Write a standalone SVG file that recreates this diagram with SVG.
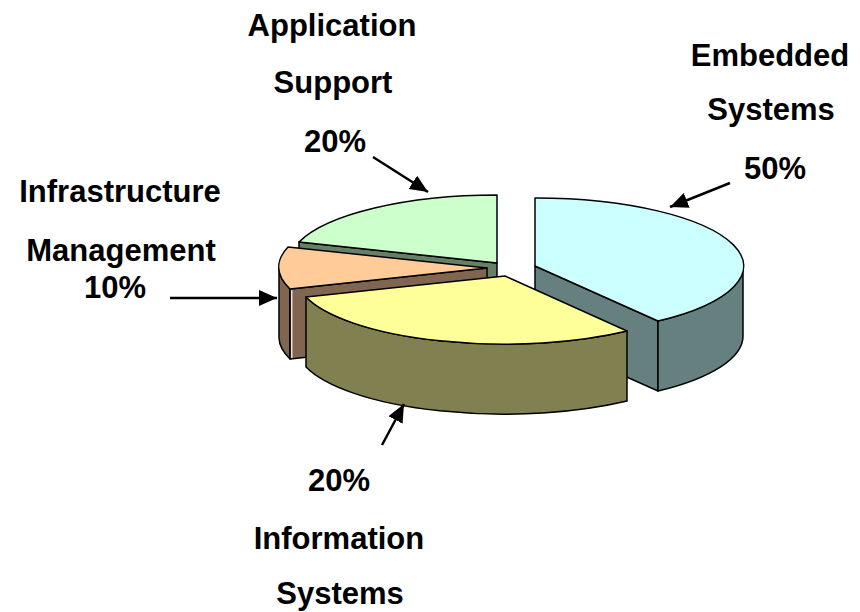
<svg xmlns="http://www.w3.org/2000/svg" width="860" height="612" viewBox="0 0 860 612">
<defs>
<style>
text{font-family:"Liberation Sans",Arial,Helvetica,sans-serif;font-weight:bold;font-size:31px;fill:#000;text-anchor:middle}
.f{stroke:#000;stroke-width:1.5;stroke-linejoin:round}
.arr{stroke:#000;stroke-width:2.5;fill:none;marker-end:url(#ah)}
</style>
<marker id="ah" markerUnits="userSpaceOnUse" markerWidth="20" markerHeight="18" refX="18" refY="8" orient="auto">
<path d="M0,0 L18,8 L0,16 Z" fill="#000"/>
</marker>
</defs>
<rect width="860" height="612" fill="#fff"/>
<g id="slice-application-support">
<path class="f" d="M299,242 L497,263 L497,333 L299,312 Z" fill="#668066"/>
<path class="f" d="M497,263 L497,195 A208,68 0 0,0 299,242 Z" fill="#CCFFCC"/>
</g>
<g id="slice-infrastructure">
<path class="f" d="M279,268 A208,68 0 0,0 290,289 L290,359 A208,68 0 0,1 279,338 Z" fill="#806650"/>
<path class="f" d="M290,289 L487,268 L487,338 L290,359 Z" fill="#806650"/>
<line x1="291.8" y1="290" x2="291.8" y2="358" stroke="#fff" stroke-width="1.2"/>
<path class="f" d="M487,268 L288,247 A208,68 0 0,0 290,289 Z" fill="#FFCC99"/>
</g>
<g id="slice-embedded">
<path class="f" d="M535,266 L658,321 L658,391 L535,336 Z" fill="#668080"/>
<path class="f" d="M658,321 A208,68 0 0,0 743,266 L743,336 A208,68 0 0,1 658,391 Z" fill="#668080"/>
<path class="f" d="M535,266 L535,198 A208,68 0 0,1 658,321 Z" fill="#CCFFFF"/>
</g>
<g id="slice-information">
<path class="f" d="M627,331 A208,68 0 0,1 306,297 L306,367 A208,68 0 0,0 627,401 Z" fill="#808050"/>
<path class="f" d="M505,276 L627,331 A208,68 0 0,1 306,297 Z" fill="#FFFF99"/>
</g>
<g id="connectors">
<line class="arr" x1="373" y1="157" x2="428" y2="192"/>
<line class="arr" x1="730" y1="183" x2="670" y2="207"/>
<line class="arr" x1="170" y1="298" x2="277" y2="298"/>
<line class="arr" x1="382" y1="445" x2="404" y2="404"/>
</g>
<g id="label-application">
<text x="332" y="36">Application</text>
<text x="333" y="93">Support</text>
<text x="335" y="152">20%</text>
</g>
<g id="label-embedded">
<text x="770" y="66">Embedded</text>
<text x="771" y="120">Systems</text>
<text x="775" y="179">50%</text>
</g>
<g id="label-infrastructure">
<text x="120" y="202">Infrastructure</text>
<text x="121" y="261">Management</text>
<text x="115" y="298">10%</text>
</g>
<g id="label-information">
<text x="339" y="491">20%</text>
<text x="339" y="549">Information</text>
<text x="340" y="604">Systems</text>
</g>
</svg>
